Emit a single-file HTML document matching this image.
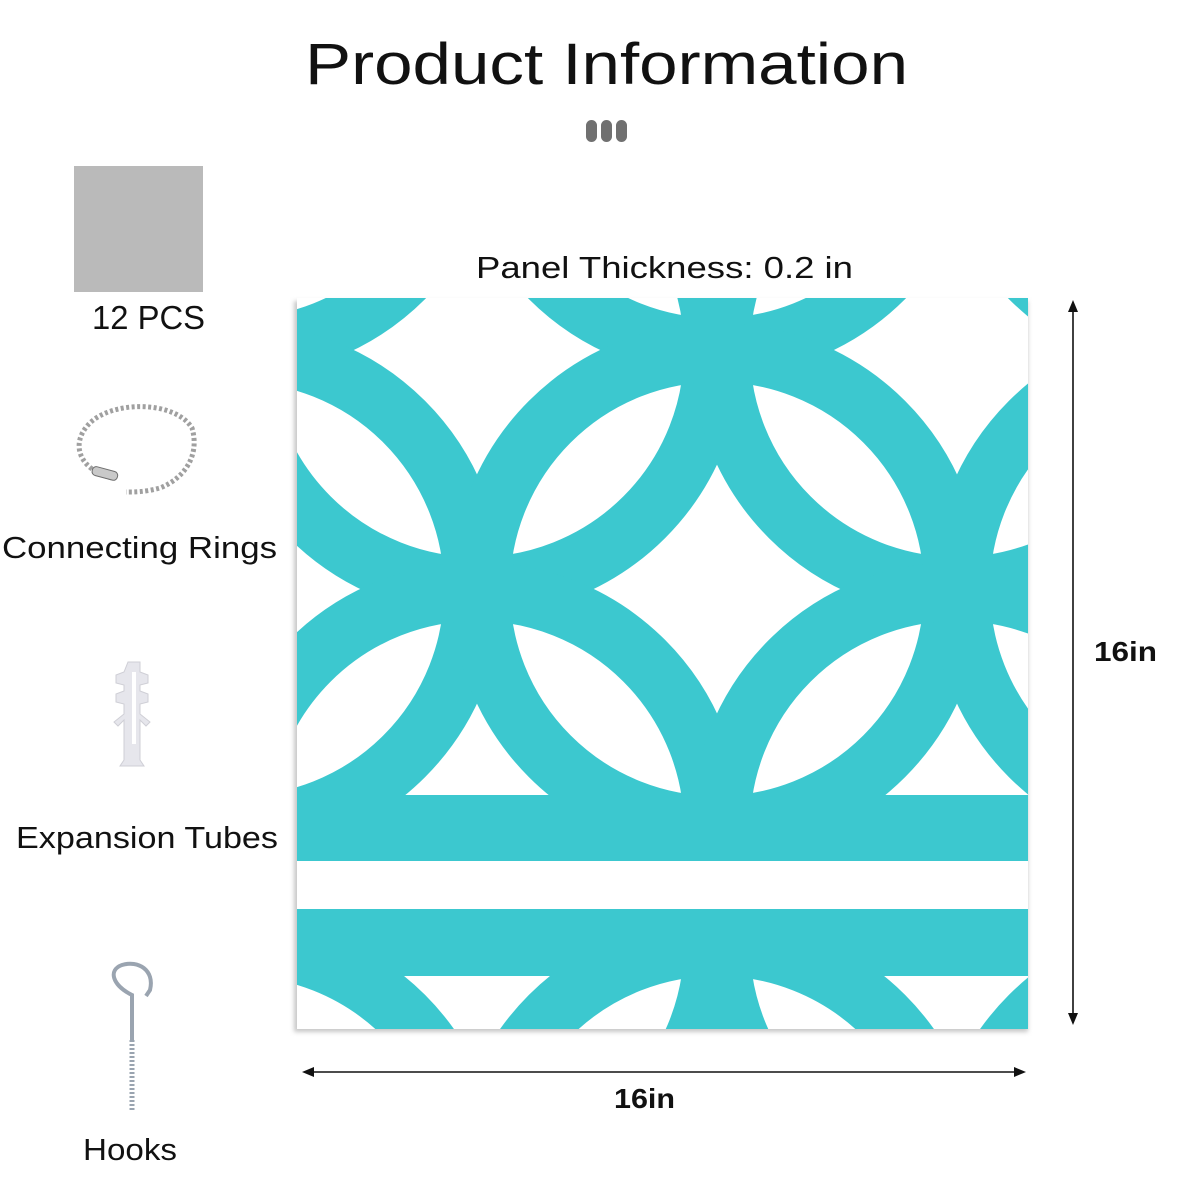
<!DOCTYPE html>
<html><head><meta charset="utf-8"><style>
html,body{margin:0;padding:0;background:#fff;overflow:hidden;width:1200px;height:1200px;}
svg{display:block;}
text{font-family:"Liberation Sans",sans-serif;fill:#111;}
</style></head><body>
<svg width="1200" height="1200" viewBox="0 0 1200 1200" xmlns="http://www.w3.org/2000/svg">
<defs>
  <clipPath id="top"><rect x="297" y="298" width="731" height="500"/></clipPath>
  <clipPath id="bot"><rect x="297" y="975" width="731" height="54"/></clipPath>
  <g id="rings" fill="none" stroke="#3cc8cf" stroke-width="59">
    <circle cx="237" cy="111" r="236.5"/><circle cx="717" cy="111" r="236.5"/><circle cx="1197" cy="111" r="236.5"/>
    <circle cx="-3" cy="350" r="236.5"/><circle cx="477" cy="350" r="236.5"/><circle cx="957" cy="350" r="236.5"/>
    <circle cx="237" cy="589" r="236.5"/><circle cx="717" cy="589" r="236.5"/><circle cx="1197" cy="589" r="236.5"/>
    <circle cx="-3" cy="828" r="236.5"/><circle cx="477" cy="828" r="236.5"/><circle cx="957" cy="828" r="236.5"/>
    <circle cx="237" cy="1067" r="236.5"/><circle cx="717" cy="1067" r="236.5"/><circle cx="1197" cy="1067" r="236.5"/>
  </g>
  <filter id="sh" x="-5%" y="-5%" width="110%" height="110%"><feGaussianBlur stdDeviation="2"/></filter>
</defs>

<text x="305" y="84" font-size="58" textLength="603" lengthAdjust="spacingAndGlyphs">Product Information</text>
<rect x="586" y="120" width="11" height="22" rx="5.5" fill="#707070"/>
<rect x="601" y="120" width="11" height="22" rx="5.5" fill="#707070"/>
<rect x="616" y="120" width="11" height="22" rx="5.5" fill="#707070"/>

<rect x="74" y="166" width="129" height="126" fill="#bababa"/>
<text x="92" y="329" font-size="33" textLength="113" lengthAdjust="spacingAndGlyphs">12 PCS</text>

<!-- chain -->
<g>
  <path d="M112 478 C 80 470, 70 445, 88 425 C 110 400, 175 400, 192 428 C 200 455, 185 478, 160 488 C 145 492, 135 492, 126 492" fill="none" stroke="#a0a0a0" stroke-width="5" stroke-dasharray="3 2.5"/>
  <rect x="92" y="469" width="26" height="9" rx="4" transform="rotate(15 105 473)" fill="#c9c9c9" stroke="#6e6e6e"/>
</g>
<text x="2" y="558" font-size="31" textLength="275" lengthAdjust="spacingAndGlyphs">Connecting Rings</text>

<!-- expansion tube -->
<g fill="#e6e6ec" stroke="#cfcfd6" stroke-width="1">
  <path d="M128 662 h12 v10 l8 3 v8 l-8 2 v6 l8 3 v8 l-8 2 v10 l10 8 l-4 4 l-6 -6 v40 l4 6 h-24 l4 -6 v-40 l-6 6 l-4 -4 l10 -8 v-10 l-8 -2 v-8 l8 -3 v-6 l-8 -2 v-8 l8 -3 z"/>
  <rect x="132" y="672" width="4" height="72" fill="#fff" stroke="none"/>
</g>
<text x="16" y="848" font-size="31" textLength="262" lengthAdjust="spacingAndGlyphs">Expansion Tubes</text>

<!-- hook -->
<g fill="none" stroke="#9aa4b0" stroke-width="4">
  <path d="M132 1040 L132 995 C 112 985, 108 970, 122 965 C 138 960, 155 970, 150 990 L 146 996"/>
  <line x1="132" y1="1040" x2="132" y2="1112" stroke-width="5" stroke-dasharray="2 2"/>
</g>
<text x="83" y="1160" font-size="31" textLength="94" lengthAdjust="spacingAndGlyphs">Hooks</text>

<text x="476" y="278" font-size="31" textLength="377" lengthAdjust="spacingAndGlyphs">Panel Thickness: 0.2 in</text>

<!-- panel -->
<rect x="294" y="301" width="734" height="731" fill="#c8c8c8" filter="url(#sh)"/>
<rect x="297" y="298" width="731" height="731" fill="#fff"/>
<g clip-path="url(#top)"><use href="#rings"/></g>
<g clip-path="url(#bot)"><use href="#rings" transform="translate(0,1772) scale(1,-1)"/></g>
<rect x="297" y="795" width="731" height="66" fill="#3cc8cf"/>
<rect x="297" y="909" width="731" height="67" fill="#3cc8cf"/>

<!-- dimension arrows -->
<line x1="1073" y1="308" x2="1073" y2="1016" stroke="#111" stroke-width="1.6"/>
<path d="M1073 300 L1068 312 L1078 312 Z" fill="#111"/>
<path d="M1073 1025 L1068 1013 L1078 1013 Z" fill="#111"/>
<text x="1094" y="661" font-size="28" font-weight="bold" textLength="63" lengthAdjust="spacingAndGlyphs">16in</text>

<line x1="310" y1="1072" x2="1017" y2="1072" stroke="#111" stroke-width="1.6"/>
<path d="M302 1072 L314 1067 L314 1077 Z" fill="#111"/>
<path d="M1026 1072 L1014 1067 L1014 1077 Z" fill="#111"/>
<text x="614" y="1108" font-size="28" font-weight="bold" textLength="61" lengthAdjust="spacingAndGlyphs">16in</text>
</svg>
</body></html>
